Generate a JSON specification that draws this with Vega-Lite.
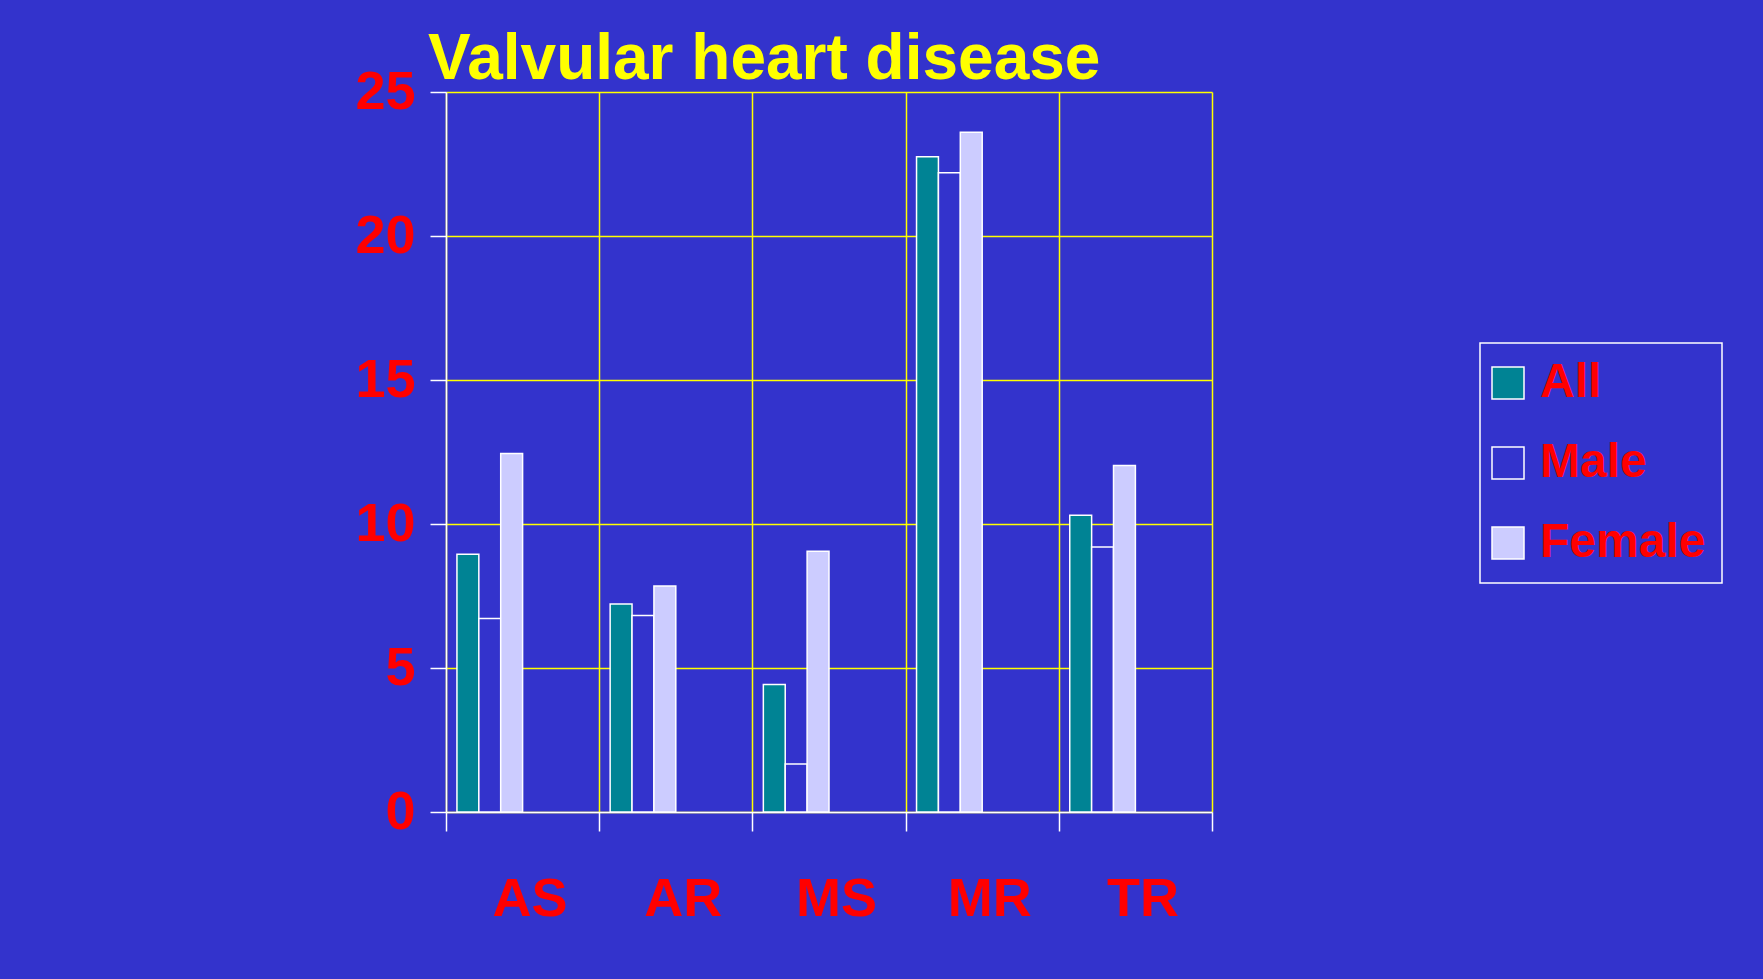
{
  "$schema": "https://vega.github.io/schema/vega-lite/v6.json",
  "width": 766,
  "height": 720,
  "autosize": {"type": "none"},
  "padding": {"left": 446, "top": 92, "right": 551, "bottom": 167},
  "background": "#3333CC",
  "title": {
    "text": "Valvular heart disease",
    "color": "#FFFF00",
    "font": "Liberation Sans",
    "fontWeight": "bold",
    "fontSize": 64,
    "anchor": "start",
    "frame": "group",
    "offset": -27,
    "dx": -18
  },
  "data": {
    "values": [
      {"cat": "AS", "group": "All", "value": 8.95},
      {"cat": "AS", "group": "Male", "value": 6.72},
      {"cat": "AS", "group": "Female", "value": 12.45},
      {"cat": "AR", "group": "All", "value": 7.22},
      {"cat": "AR", "group": "Male", "value": 6.82},
      {"cat": "AR", "group": "Female", "value": 7.85},
      {"cat": "MS", "group": "All", "value": 4.43},
      {"cat": "MS", "group": "Male", "value": 1.67},
      {"cat": "MS", "group": "Female", "value": 9.05},
      {"cat": "MR", "group": "All", "value": 22.75},
      {"cat": "MR", "group": "Male", "value": 22.2},
      {"cat": "MR", "group": "Female", "value": 23.6},
      {"cat": "TR", "group": "All", "value": 10.3},
      {"cat": "TR", "group": "Male", "value": 9.2},
      {"cat": "TR", "group": "Female", "value": 12.03}
    ]
  },
  "mark": {"type": "bar", "stroke": "#FFFFFF", "strokeWidth": 1.5, "fillOpacity": 1},
  "encoding": {
    "x": {
      "field": "cat",
      "type": "nominal",
      "sort": ["AS", "AR", "MS", "MR", "TR"],
      "scale": {"paddingInner": 0, "paddingOuter": 0},
      "axis": {
        "title": null,
        "labelAngle": 0,
        "labelColor": "#FF0000",
        "labelFont": "Liberation Sans",
        "labelFontWeight": "bold",
        "labelFontSize": 54,
        "labelPadding": 41,
        "labelOffset": 7,
        "tickBand": "extent",
        "tickColor": "#FFFFFF",
        "tickSize": 19,
        "tickWidth": 1.5,
        "domainColor": "#FFFFFF",
        "domainWidth": 1.5,
        "grid": true,
        "gridColor": "#FFFF00",
        "gridWidth": 1.5,
        "gridOpacity": 1
      }
    },
    "xOffset": {
      "field": "group",
      "type": "nominal",
      "scale": {"domain": ["All", "Male", "Female", "e1", "e2", "e3"], "paddingInner": 0, "paddingOuter": 0.5}
    },
    "y": {
      "field": "value",
      "type": "quantitative",
      "scale": {"domain": [0, 25], "nice": false},
      "axis": {
        "title": null,
        "values": [0, 5, 10, 15, 20, 25],
        "labelColor": "#FF0000",
        "labelFont": "Liberation Sans",
        "labelFontWeight": "bold",
        "labelFontSize": 54,
        "labelPadding": 15,
        "tickColor": "#FFFFFF",
        "tickSize": 16,
        "tickWidth": 1.5,
        "domainColor": "#FFFFFF",
        "domainWidth": 1.5,
        "grid": true,
        "gridColor": "#FFFF00",
        "gridWidth": 1.5,
        "gridOpacity": 1
      }
    },
    "color": {
      "field": "group",
      "type": "nominal",
      "sort": ["All", "Male", "Female"],
      "scale": {"domain": ["All", "Male", "Female"], "range": ["#008394", "#3333CC", "#CCCCFF"]},
      "legend": {
        "title": null,
        "orient": "none",
        "legendX": 1034,
        "legendY": 251,
        "strokeColor": "#FFFFFF",
        "padding": 16,
        "symbolType": "square",
        "symbolSize": 1024,
        "symbolOffset": -12,
        "symbolStrokeColor": "#FFFFFF",
        "symbolStrokeWidth": 1.5,
        "symbolFillOpacity": 1,
        "labelFont": "Liberation Sans",
        "labelFontWeight": "bold",
        "labelFontSize": 48,
        "labelLimit": 0,
        "labelColor": "#FF0000",
        "labelOffset": 8,
        "rowPadding": 32,
        "encode": {"legend": {"update": {"strokeWidth": {"value": 1.5}}}}
      }
    }
  },
  "config": {
    "view": {"stroke": null}
  }
}
